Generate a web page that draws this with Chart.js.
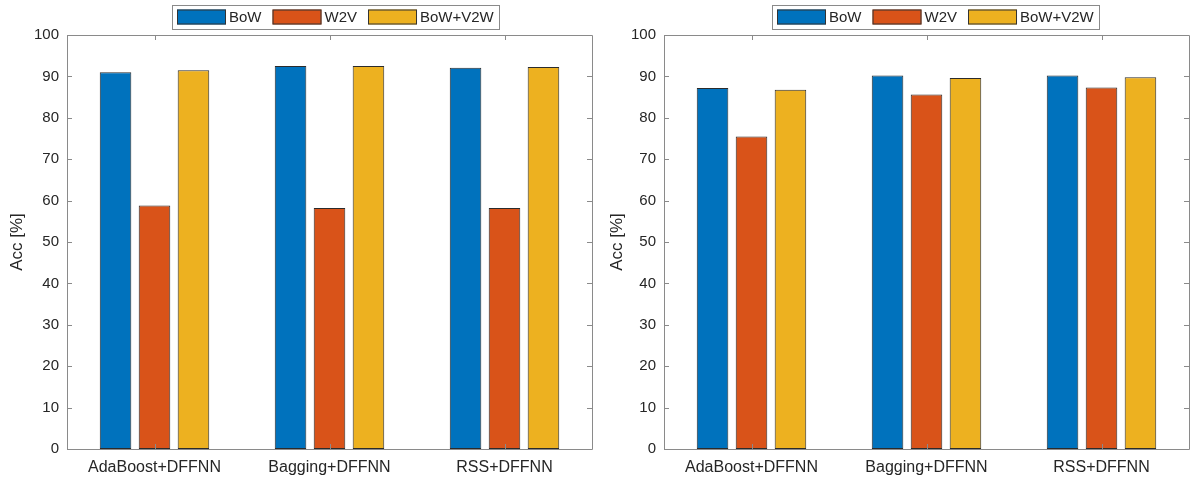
<!DOCTYPE html>
<html>
<head>
<meta charset="utf-8">
<script src="https://cdn.jsdelivr.net/npm/chart.js@4/dist/chart.umd.min.js"></script>
<style>
    html, body { margin: 0; padding: 0; background: #fff; }
    body { width: 1191px; height: 479px; position: relative; overflow: hidden; }
    canvas { position: absolute; top: 0; }
    #leftChart { left: 0; }
    #rightChart { left: 600px; }
</style>
</head>
<body>
<canvas id="leftChart" width="600" height="479"></canvas>
<canvas id="rightChart" width="591" height="479"></canvas>
<script>
/* ---- data ---- */
const categories = ['AdaBoost+DFFNN', 'Bagging+DFFNN', 'RSS+DFFNN'];
const seriesNames = ['BoW', 'W2V', 'BoW+V2W'];
const yTicks = [0, 10, 20, 30, 40, 50, 60, 70, 80, 90, 100];

const leftBoW = [91.0, 92.5, 92.1];
const leftW2V = [58.8, 58.2, 58.2];
const leftBoWV2W = [91.5, 92.5, 92.3];

const rightBoW = [87.2, 90.2, 90.2];
const rightW2V = [75.5, 85.6, 87.3];
const rightBoWV2W = [86.8, 89.6, 89.8];

/* ---- look ---- */
const COLORS = { blue: '#0072BD', red: '#D95319', yellow: '#EDB120', text: '#262626', axis: '#8a8a8a' };
const FONT = '"Liberation Sans", Arial, Helvetica, sans-serif';

/**
 * MATLAB-like box with inward ticks on all four sides, plus a boxed legend
 */
const matlabFrame = {
    id: 'matlabFrame',
    afterDraw(chart, args, opts) {
        const { ctx, chartArea: a, scales } = chart;
        const tl = 5;
        ctx.save();
        ctx.strokeStyle = COLORS.axis;
        ctx.lineWidth = 1;
        ctx.beginPath();
        ctx.rect(Math.round(a.left) + 0.5, Math.round(a.top) + 0.5,
            Math.round(a.right - a.left), Math.round(a.bottom - a.top));
        scales.y.ticks.forEach((t) => {
            const y = Math.round(scales.y.getPixelForValue(t.value)) + 0.5;
            ctx.moveTo(a.left, y); ctx.lineTo(a.left + tl, y);
            ctx.moveTo(a.right, y); ctx.lineTo(a.right - tl, y);
        });
        scales.x.ticks.forEach((t, i) => {
            const x = Math.round(scales.x.getPixelForTick(i)) + 0.5;
            ctx.moveTo(x, a.bottom); ctx.lineTo(x, a.bottom - tl);
            ctx.moveTo(x, a.top); ctx.lineTo(x, a.top + tl);
        });
        ctx.stroke();

        // legend
        ctx.font = '15px ' + FONT;
        const boxW = 49, boxH = 15, gap = 3, itemGap = 11, pad = 5;
        const items = chart.data.datasets.map(d => ({
            label: d.label, color: d.backgroundColor, tw: ctx.measureText(d.label).width
        }));
        const total = pad * 2 + items.reduce((s, it) => s + boxW + gap + it.tw, 0) + itemGap * (items.length - 1);
        const cx = (a.left + a.right) / 2 + (opts.offsetX || 0);
        let x = Math.round(cx - total / 2);
        const top = 5, h = 24, mid = top + h / 2;
        ctx.strokeStyle = COLORS.axis;
        ctx.strokeRect(x + 0.5, top + 0.5, Math.round(total), h);
        x += pad;
        items.forEach((it) => {
            ctx.fillStyle = it.color;
            ctx.fillRect(x, mid - boxH / 2, boxW, boxH);
            ctx.strokeStyle = '#333';
            ctx.strokeRect(x + 0.5, mid - boxH / 2 + 0.5, boxW - 1, boxH - 1);
            x += boxW + gap;
            ctx.fillStyle = COLORS.text;
            ctx.textBaseline = 'middle';
            ctx.textAlign = 'left';
            ctx.fillText(it.label, x, mid + 1);
            x += it.tw + itemGap;
        });
        ctx.restore();
    }
};

const makeDatasets = (bow, w2v, both) => [
    { label: seriesNames[0], data: bow, backgroundColor: COLORS.blue },
    { label: seriesNames[1], data: w2v, backgroundColor: COLORS.red },
    { label: seriesNames[2], data: both, backgroundColor: COLORS.yellow }
].map(d => ({
    ...d,
    borderColor: '#2b2b2b',
    borderWidth: 1,
    borderSkipped: false,
    categoryPercentage: 0.668,
    barPercentage: 0.81
}));

/**
 * Create one accuracy bar chart
 */
const createAccChart = (id, datasets, yWidth, padRight, legendOffset) => {
    const ctx = document.getElementById(id).getContext('2d');
    return new Chart(ctx, {
        type: 'bar',
        data: { labels: categories, datasets },
        options: {
            responsive: false,
            animation: false,
            devicePixelRatio: 1,
            layout: { padding: { top: 35, right: padRight, bottom: 0, left: 0 } },
            scales: {
                x: {
                    grid: { display: false, drawTicks: false },
                    border: { display: false },
                    ticks: { color: COLORS.text, font: { family: FONT, size: 16 }, padding: 9, maxRotation: 0 },
                    afterFit: (s) => { s.height = 30; }
                },
                y: {
                    min: 0,
                    max: 100,
                    afterBuildTicks: (s) => { s.ticks = yTicks.map(v => ({ value: v })); },
                    grid: { display: false, drawTicks: false },
                    border: { display: false },
                    ticks: { color: COLORS.text, font: { family: FONT, size: 15 }, padding: 8 },
                    title: {
                        display: true,
                        text: 'Acc [%]',
                        color: COLORS.text,
                        font: { family: FONT, size: 17 },
                        padding: { top: 7, bottom: 0 }
                    },
                    afterFit: (s) => { s.width = yWidth; }
                }
            },
            plugins: {
                legend: { display: false },
                tooltip: { enabled: false },
                matlabFrame: { offsetX: legendOffset }
            }
        },
        plugins: [matlabFrame]
    });
};

createAccChart('leftChart', makeDatasets(leftBoW, leftW2V, leftBoWV2W), 67, 8, 6);
createAccChart('rightChart', makeDatasets(rightBoW, rightW2V, rightBoWV2W), 64, 2, 9);
</script>
</body>
</html>
